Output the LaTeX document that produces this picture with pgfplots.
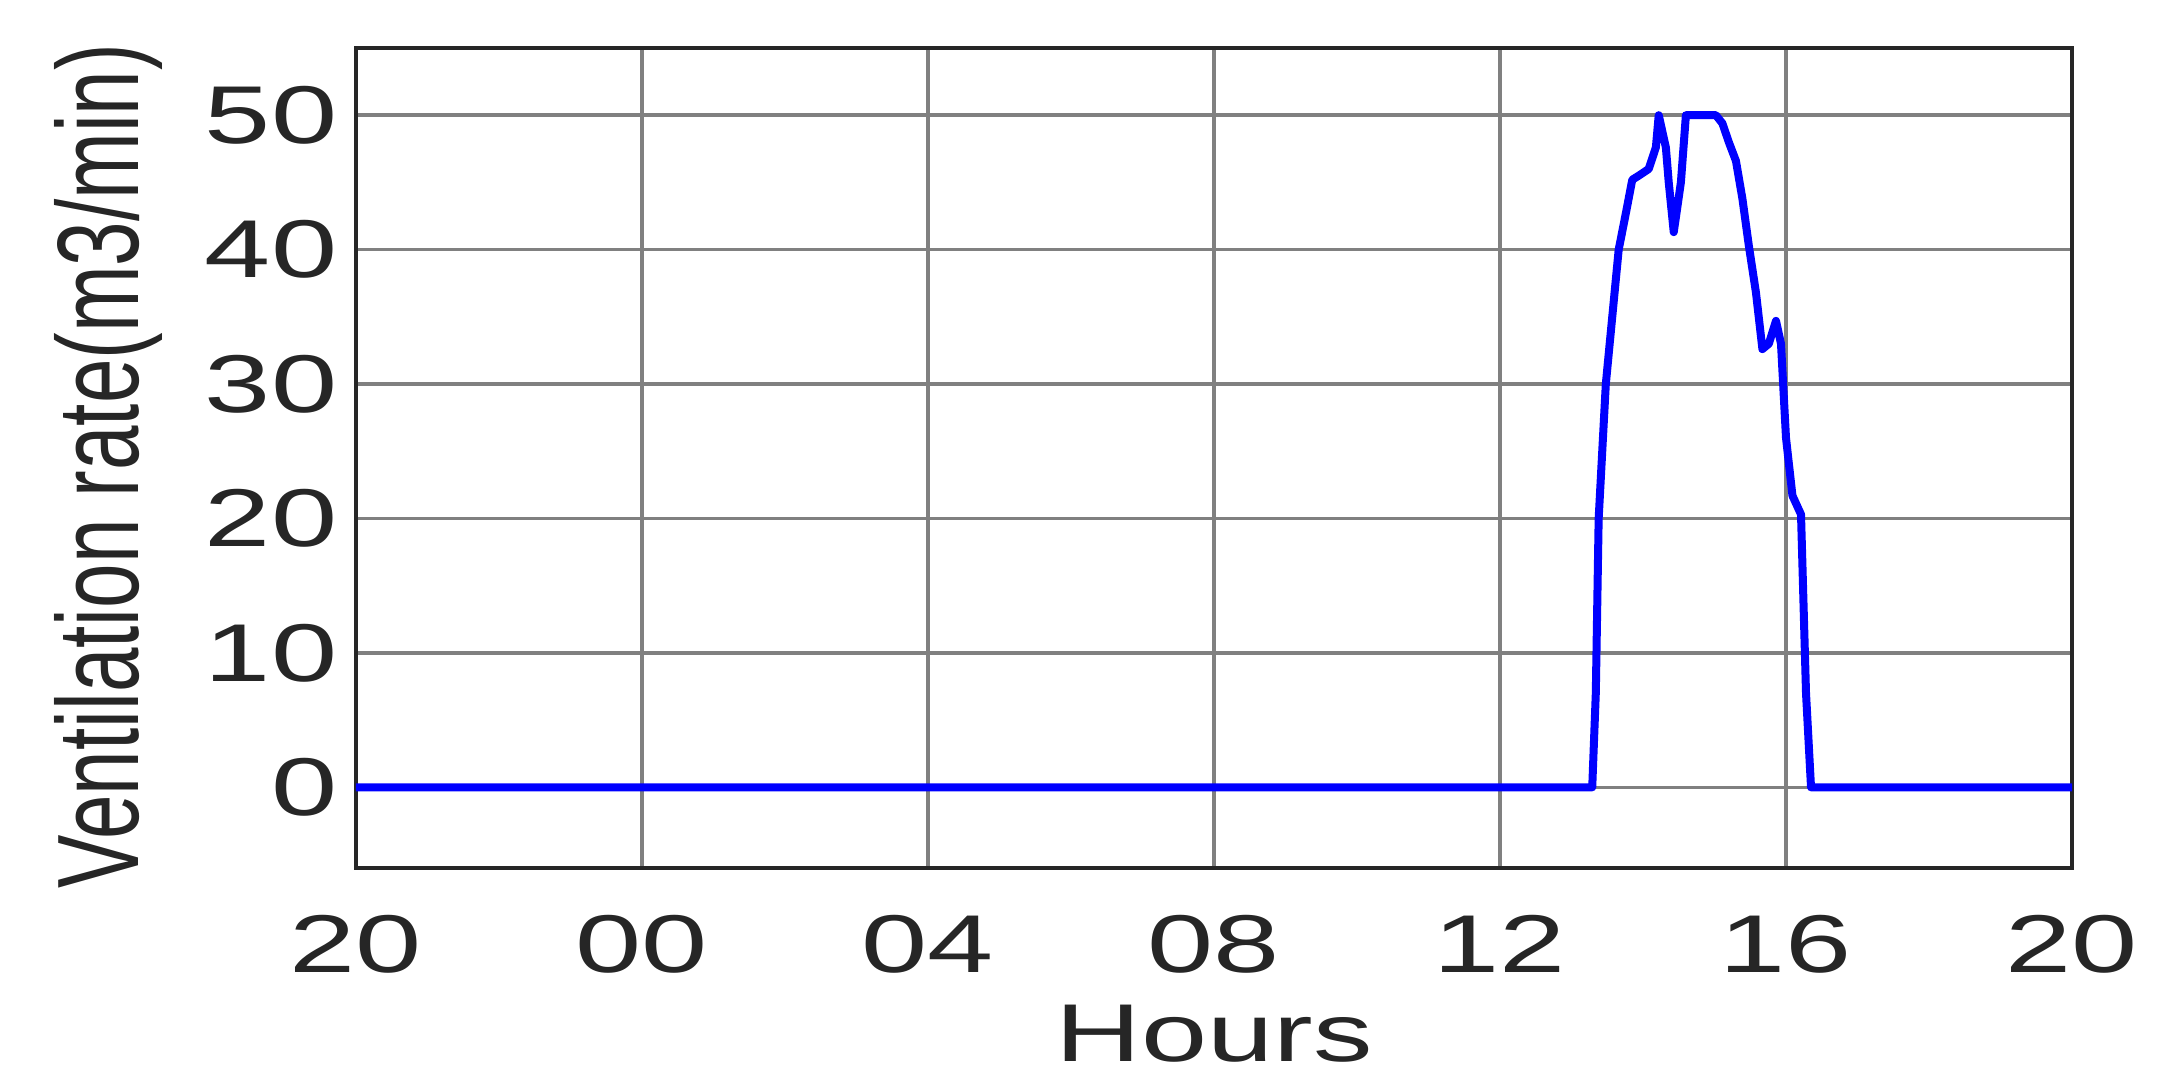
\documentclass[border=0pt]{standalone}
\usepackage{graphicx}
\usepackage{fontspec}
\setmainfont{Liberation Sans}
\usepackage{pgfplots}
\pgfplotsset{compat=1.18}
\definecolor{txt}{HTML}{262626}
\definecolor{gridc}{HTML}{808080}
% reference text is stretched horizontally
\newcommand{\hs}[1]{\scalebox{1.45}[1]{#1}}
\begin{document}
\fontsize{20}{24}\selectfont
\begin{tikzpicture}
\begin{axis}[
  scale only axis, width=429pt, height=205pt,
  xmin=0, xmax=24, ymin=-6, ymax=55,
  /pgf/number format/assume math mode=true,
  xtick={0,4,8,12,16,20,24},
  xticklabels={\hs{20},\hs{00},\hs{04},\hs{08},\hs{12},\hs{16},\hs{20}},
  ytick={0,10,20,30,40,50},
  yticklabel={\hs{\pgfmathprintnumber{\tick}}},
  tick style={draw=none},
  grid=major,
  major grid style={gridc, line width=0.9pt},
  axis line style={txt, line width=1.1pt},
  every tick label/.append style={txt, inner sep=0pt, font=\fontsize{20.5}{24}\selectfont},
  xticklabel style={anchor=center, yshift=-19pt},
  yticklabel style={anchor=east, xshift=-4.5pt},
  xlabel={\hs{Hours}},
  xlabel style={at={(axis description cs:0.5,0)}, anchor=center, yshift=-41.5pt, txt, inner sep=0pt, font=\fontsize{20.5}{24}\selectfont},
  ylabel={\scalebox{1}[1.45]{Ventilation rate(m3/min)}},
  ylabel style={at={(axis description cs:-0.1445,0.49)}, anchor=center, rotate=0, txt, inner sep=0pt, font=\fontsize{20}{24}\selectfont},
]
\addplot[blue, line width=2pt, line join=round] coordinates {
(0,0) (17.29,0) (17.34,7) (17.38,20) (17.48,30) (17.57,35) (17.66,40)
(17.76,42.7) (17.85,45.2) (17.94,45.5) (18.08,46) (18.18,47.6) (18.22,50)
(18.32,47.6) (18.36,45) (18.43,41.3) (18.53,45) (18.60,50) (19.02,50)
(19.11,49.4) (19.20,48) (19.30,46.6) (19.39,43.8) (19.48,40.3) (19.58,36.8)
(19.67,32.6) (19.76,33) (19.86,34.7) (19.93,33) (20.00,26) (20.09,21.7)
(20.21,20.3) (20.28,7) (20.35,0) (24,0)
};
\end{axis}
\path (-89pt,-55pt) rectangle (452pt,217pt);
\end{tikzpicture}
\end{document}
